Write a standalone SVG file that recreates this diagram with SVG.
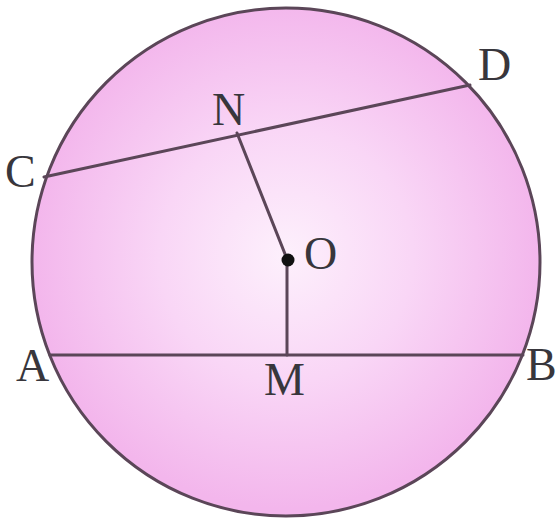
<svg xmlns="http://www.w3.org/2000/svg" width="558" height="520" viewBox="0 0 558 520">
<style>
.ln{stroke:#5b4658;stroke-width:3;fill:none;stroke-linecap:round}
.lbl{font-family:"Liberation Serif","Times New Roman",serif;font-size:46px;fill:#38363c}
</style>
<defs>
<radialGradient id="g" cx="286" cy="255" r="254" gradientUnits="userSpaceOnUse">
<stop offset="0" stop-color="#fdf0fc"/>
<stop offset="0.5" stop-color="#f9d6f6"/>
<stop offset="1" stop-color="#f3b6ec"/>
</radialGradient>
</defs>
<rect width="558" height="520" fill="#ffffff"/>
<g id="circle">
<circle cx="286" cy="262" r="254" fill="url(#g)" stroke="#5b4658" stroke-width="3"/>
</g>
<g id="connectors">
<line class="ln" x1="44" y1="177" x2="470" y2="85"/>
<line class="ln" x1="50" y1="355" x2="523" y2="355"/>
<line class="ln" x1="237" y1="133" x2="287" y2="259"/>
<line class="ln" x1="287" y1="259" x2="287" y2="355"/>
</g>
<g id="O"><circle cx="288" cy="260" r="6.5" fill="#111"/><text class="lbl" x="304" y="269">O</text></g>
<g id="C"><text class="lbl" x="5" y="187">C</text></g>
<g id="D"><text class="lbl" x="478" y="80">D</text></g>
<g id="N"><text class="lbl" x="212" y="125">N</text></g>
<g id="A"><text class="lbl" x="16" y="381">A</text></g>
<g id="B"><text class="lbl" x="526" y="380">B</text></g>
<g id="M"><text class="lbl" x="264" y="395">M</text></g>
</svg>
